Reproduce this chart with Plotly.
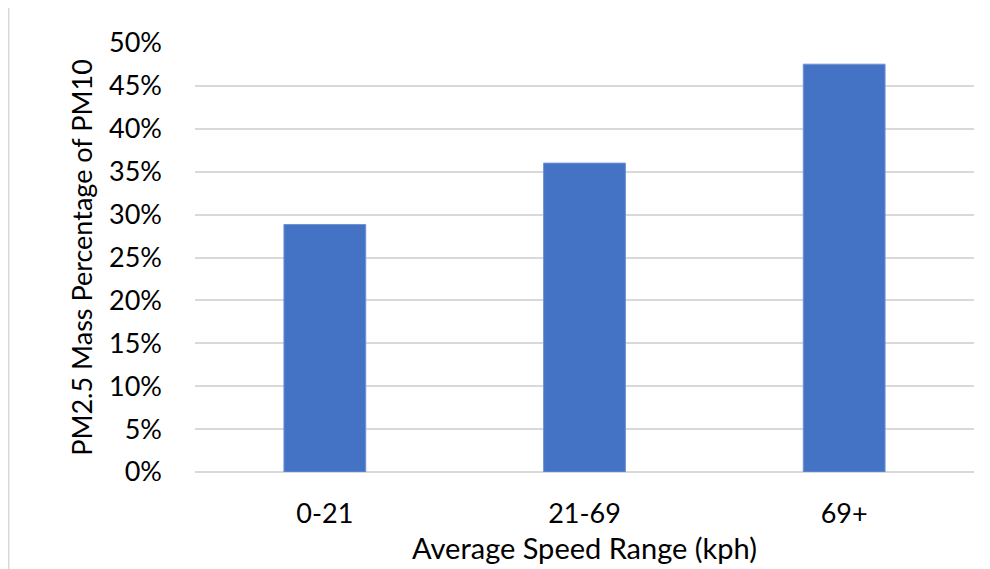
import plotly.graph_objects as go

# data
speed_ranges = ['0-21', '21-69', '69+']
pm25_share = [0.2885, 0.360, 0.4753]
y_ticks = [0, 0.05, 0.10, 0.15, 0.20, 0.25, 0.30, 0.35, 0.40, 0.45, 0.50]

bars = go.Bar(x=speed_ranges, y=pm25_share, marker=dict(color='#4472C4',
              line=dict(color='#6f93d6', width=1)))

fig = go.Figure(data=[bars])

# page body has an 8px margin, so margins are trimmed by that much
fig.update_layout(
    width=990, height=569,
    margin=dict(l=187, r=24, t=35, b=105),
    plot_bgcolor='white', paper_bgcolor='white',
    bargap=0.685,
    showlegend=False,
    font=dict(family='Lato', color='black', size=27),
)

fig.update_xaxes(
    title=dict(text='Average Speed Range (kph)', font=dict(size=29), standoff=10),
    showline=False, showgrid=False, ticks='', ticklabelstandoff=23,
)
fig.update_yaxes(
    title=dict(text='PM2.5 Mass Percentage of PM10', font=dict(size=27), standoff=8),
    range=[0, 0.5], tickvals=y_ticks, tickformat='.0%',
    showgrid=True, gridcolor='#d9d9d9', gridwidth=2,
    zeroline=True, zerolinecolor='#d9d9d9', zerolinewidth=2,
    showline=False, ticks='', ticklabelstandoff=32,
)

# light outer chart border, cropped at right and bottom
fig.add_shape(type='rect', xref='paper', yref='paper',
              x0=-0.2394, x1=1.5, y0=-0.5, y1=1.085,
              line=dict(color='#d9d9d9', width=2), fillcolor='rgba(0,0,0,0)')

fig.write_html('out.html')
